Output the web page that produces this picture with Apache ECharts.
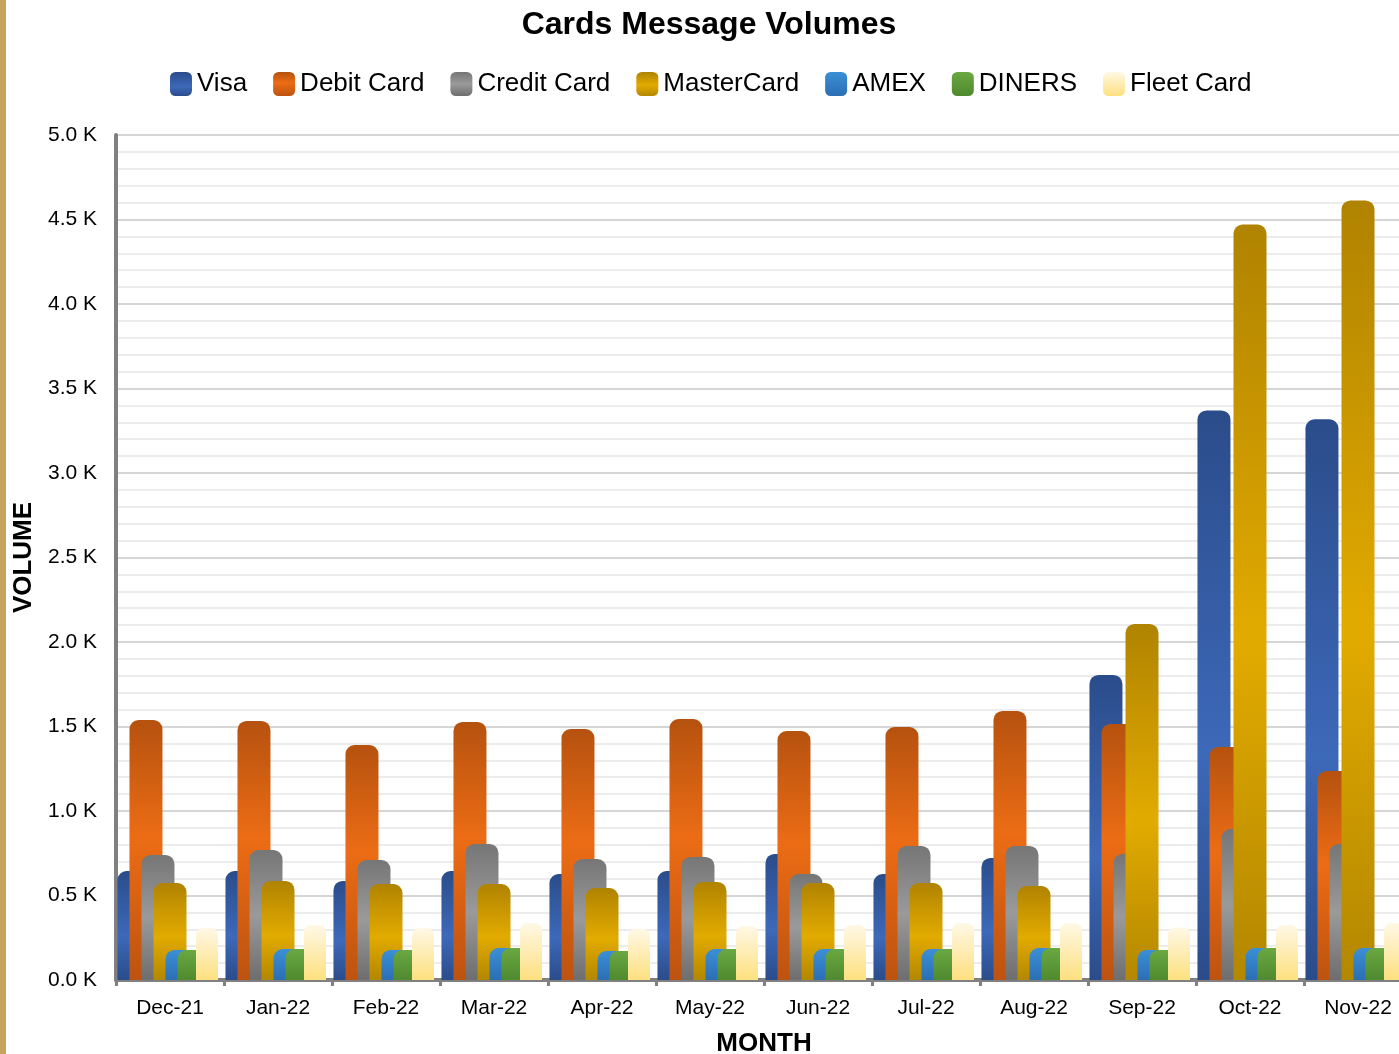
<!DOCTYPE html>
<html>
<head>
<meta charset="utf-8">
<script src="https://cdn.jsdelivr.net/npm/echarts@6/dist/echarts.min.js"></script>
<style>
html,body{margin:0;padding:0;background:#fff;}
#chart{width:1399px;height:1054px;}
</style>
</head>
<body>
<div id="chart"></div>
<script>
const months = ['Dec-21','Jan-22','Feb-22','Mar-22','Apr-22','May-22','Jun-22','Jul-22','Aug-22','Sep-22','Oct-22','Nov-22'];
const visa       = [645, 645, 586, 645, 627, 645, 746, 627, 722, 1805, 3370, 3318];
const debitCard  = [1538, 1533, 1390, 1527, 1485, 1544, 1473, 1497, 1592, 1515, 1379, 1237];
const creditCard = [740, 769, 710, 805, 716, 728, 627, 793, 793, 746, 893, 805];
const masterCard = [574, 586, 568, 568, 544, 580, 574, 574, 556, 2107, 4470, 4613];
const amex       = [178, 183, 178, 189, 172, 183, 183, 183, 189, 178, 189, 189];
const diners     = [178, 183, 178, 189, 172, 183, 183, 183, 189, 178, 189, 189];
const fleetCard  = [308, 325, 308, 337, 302, 320, 325, 337, 337, 310, 325, 337];
const yTicks = [0, 500, 1000, 1500, 2000, 2500, 3000, 3500, 4000, 4500, 5000];

function vgrad(stops){
  return {type:'linear',x:0,y:0,x2:0,y2:1,colorStops:stops.map(s=>({offset:s[0],color:s[1]}))};
}
const styles = {
  'Visa': vgrad([[0,'#2b4c8a'],[0.6,'#3d69b9'],[1,'#2b4c8a']]),
  'Debit Card': vgrad([[0,'#b5520f'],[0.45,'#ec6c15'],[1,'#bd5310']]),
  'Credit Card': vgrad([[0,'#767676'],[0.5,'#9a9a9a'],[1,'#6e6e6e']]),
  'MasterCard': vgrad([[0,'#b08300'],[0.55,'#e2ab00'],[1,'#b38700']]),
  'AMEX': vgrad([[0,'#3b8fd6'],[1,'#2b6fb4']]),
  'DINERS': vgrad([[0,'#6aa842'],[1,'#4f8a2e']]),
  'Fleet Card': vgrad([[0,'#fff8e6'],[1,'#fde07f']])
};
const mainSeries = [
  ['Visa', visa], ['Debit Card', debitCard], ['Credit Card', creditCard],
  ['MasterCard', masterCard], ['AMEX', amex], ['DINERS', diners]
];
const legendNames = ['Visa','Debit Card','Credit Card','MasterCard','AMEX','DINERS','Fleet Card'];
const font = 'Liberation Sans, Arial, sans-serif';

const series = mainSeries.map(s=>({
  name:s[0], type:'bar', data:s[1], xAxisIndex:0,
  barWidth:33, barGap:'-63.6%',
  itemStyle:{color:styles[s[0]],borderRadius:[9,9,0,0]}
}));
// empty slot (no marks) keeping the six main bars at their group offsets
series.push({name:'_slot', type:'bar', data:months.map(()=>'-'), xAxisIndex:0, barWidth:33, barGap:'-63.6%', silent:true, itemStyle:{color:'transparent'}});
// spacer (no marks) so Fleet Card sits at its own offset on a hidden companion axis
series.push({name:'_spacer', type:'bar', data:months.map(()=>'-'), xAxisIndex:1, barWidth:74, barGap:0, silent:true, itemStyle:{color:'transparent'}});
series.push({name:'Fleet Card', type:'bar', data:fleetCard, xAxisIndex:1, barWidth:22, barGap:0,
  itemStyle:{color:styles['Fleet Card'],borderRadius:[7,7,0,0]}});

const chart = echarts.init(document.getElementById('chart'), null, {renderer:'canvas'});
chart.setOption({
  animation:false,
  backgroundColor:'#ffffff',
  title:{
    text:'Cards Message Volumes',
    left:704, top:4, textAlign:'center',
    textStyle:{fontFamily:font,fontWeight:'bold',fontSize:32,color:'#000'}
  },
  legend:{
    left:165, top:66,
    itemWidth:22, itemHeight:24, itemGap:26,
    icon:'roundRect',
    textStyle:{fontFamily:font,fontSize:26,color:'#000'},
    data:legendNames
  },
  graphic:[{type:'rect',left:0,top:0,shape:{x:0,y:0,width:6,height:1054},style:{fill:'#c6a45e'},z:100}],
  grid:{left:116,right:-13,top:135,bottom:74,containLabel:false,outerBoundsMode:'none'},
  xAxis:[{
    type:'category',
    data:months,
    name:'MONTH',
    nameLocation:'middle',
    nameGap:51,
    nameTextStyle:{fontFamily:font,fontWeight:'bold',fontSize:26,color:'#000'},
    axisLine:{lineStyle:{color:'#808080',width:4}},
    axisTick:{show:true,length:6,lineStyle:{color:'#808080',width:3}},
    axisLabel:{fontFamily:font,fontSize:21,color:'#000',margin:18}
  },{
    type:'category', data:months, show:false, position:'bottom'
  }],
  yAxis:{
    type:'value',
    min:yTicks[0], max:yTicks[yTicks.length-1], interval:500,
    name:'VOLUME',
    nameLocation:'middle',
    nameGap:73,
    nameTextStyle:{fontFamily:font,fontWeight:'bold',fontSize:26,color:'#000'},
    axisLine:{show:true,lineStyle:{color:'#808080',width:4}},
    axisTick:{show:false},
    axisLabel:{fontFamily:font,fontSize:21,color:'#000',margin:19,
      formatter:v=>(v/1000).toFixed(1)+' K'},
    splitLine:{show:true,lineStyle:{color:'#d6d6d6',width:2}},
    minorTick:{show:false,splitNumber:5},
    minorSplitLine:{show:true,lineStyle:{color:'#ececec',width:2}}
  },
  series:series
});
</script>
</body>
</html>
